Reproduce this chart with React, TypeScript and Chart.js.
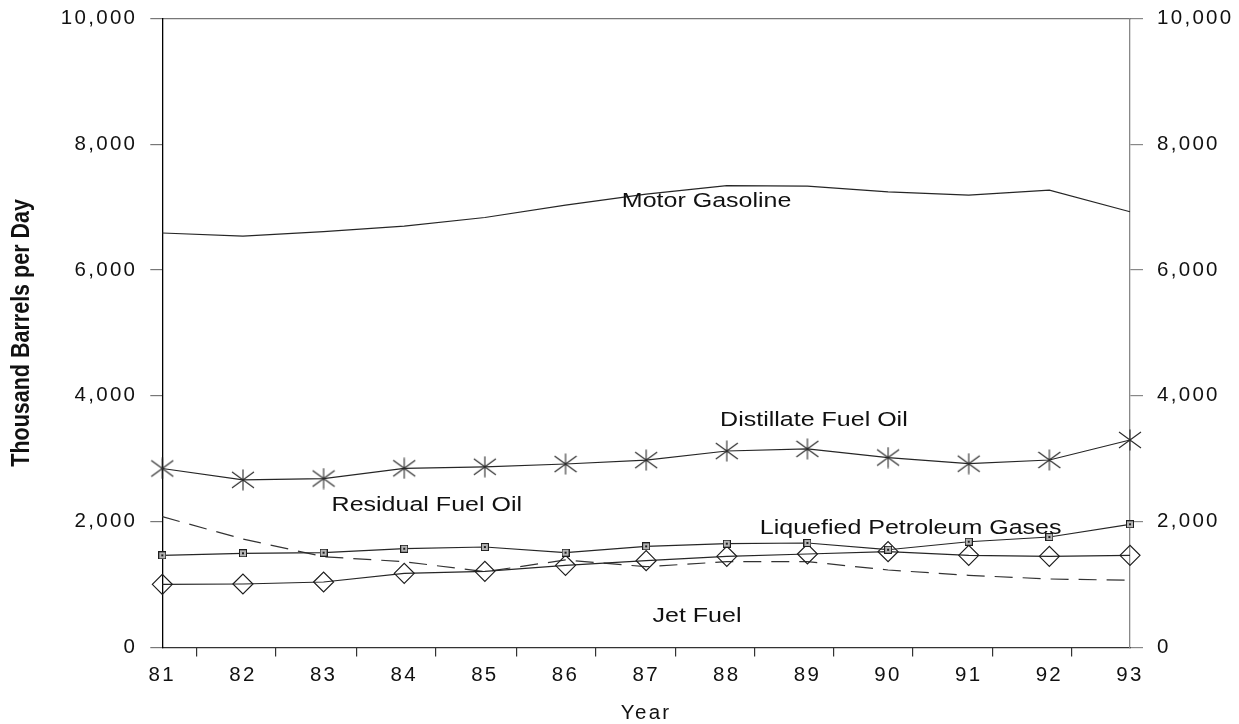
import React, { useEffect, useRef } from 'react';
import { Chart, registerables } from 'chart.js';

Chart.register(...registerables);

const years = ['81', '82', '83', '84', '85', '86', '87', '88', '89', '90', '91', '92', '93'];
const motorGasoline = [6588, 6539, 6610, 6696, 6834, 7030, 7206, 7340, 7332, 7240, 7190, 7270, 6925];
const distillateFuelOil = [2845, 2665, 2685, 2848, 2872, 2916, 2978, 3123, 3156, 3019, 2921, 2980, 3298];
const liquefiedPetroleumGases = [1465, 1497, 1507, 1570, 1597, 1507, 1608, 1650, 1661, 1554, 1681, 1756, 1958];
const jetFuel = [1004, 1009, 1041, 1179, 1211, 1306, 1380, 1449, 1486, 1523, 1465, 1449, 1465];
const residualFuelOil = [2079, 1724, 1443, 1364, 1205, 1391, 1284, 1364, 1364, 1232, 1147, 1089, 1068];

const yMin = 0;
const yMax = 10000;
const yStep = 2000;
// minor tick marks on the year axis (in category-index units)
const xTickMarks = [0.43, 1.41, 2.41, 3.39, 4.39, 5.37, 6.37, 7.35, 8.33, 9.31, 10.3, 11.28];

// series name labels: category index and value of the text baseline centre
const seriesLabelText = ['Motor Gasoline', 'Distillate Fuel Oil', 'Residual Fuel Oil', 'Liquefied Petroleum Gases', 'Jet Fuel'];
const seriesLabelIndex = [6.75, 8.08, 3.28, 9.28, 6.63];
const seriesLabelValue = [7006, 3520, 2174, 1804, 410];

const yTitle = 'Thousand Barrels per Day';
const xTitle = 'Year';

const FONT = "'Liberation Sans', Arial, Helvetica, sans-serif";
const LINE = '#262626';

function makeAsterisk(): HTMLCanvasElement {
  const c = document.createElement('canvas');
  c.width = 24;
  c.height = 22;
  const g = c.getContext('2d')!;
  g.strokeStyle = '#2a2a2a';
  g.lineWidth = 1.1;
  g.beginPath();
  g.moveTo(12, 0.5);
  g.lineTo(12, 21.5);
  g.moveTo(1, 3);
  g.lineTo(23, 19);
  g.moveTo(1, 19);
  g.lineTo(23, 3);
  g.stroke();
  return c;
}

function makeSquare(): HTMLCanvasElement {
  const c = document.createElement('canvas');
  c.width = 8;
  c.height = 8;
  const g = c.getContext('2d')!;
  g.fillStyle = '#b4b4b4';
  g.fillRect(0, 0, 8, 8);
  g.strokeStyle = '#1e1e1e';
  g.lineWidth = 1;
  g.strokeRect(0.5, 0.5, 7, 7);
  g.fillStyle = '#1e1e1e';
  g.fillRect(3, 3, 2, 2);
  return c;
}

const fmt = (v: number) => Number(v).toLocaleString('en-US');

const noPad = (s: any) => {
  s.paddingTop = 0;
  s.paddingBottom = 0;
  s.paddingLeft = 0;
  s.paddingRight = 0;
};

export default function App() {
  const ref = useRef<HTMLCanvasElement | null>(null);

  useEffect(() => {
    if (!ref.current) return;
    const asterisk = makeAsterisk();
    const square = makeSquare();

    const textPlugin = {
      id: 'textPlugin',
      beforeDraw(chart: any) {
        (chart.ctx as any).letterSpacing = '2.3px';
      },
      afterDraw(chart: any) {
        const ctx = chart.ctx;
        const xs = chart.scales.x;
        const ys = chart.scales.y;
        const area = chart.chartArea;
        ctx.save();
        (ctx as any).letterSpacing = '0px';
        ctx.fillStyle = '#111';
        ctx.font = `20.5px ${FONT}`;
        ctx.textAlign = 'center';
        ctx.textBaseline = 'alphabetic';
        for (let i = 0; i < seriesLabelText.length; i++) {
          const px = xs.getPixelForValue(seriesLabelIndex[i]);
          const py = ys.getPixelForValue(seriesLabelValue[i]);
          ctx.save();
          ctx.translate(px, py);
          ctx.scale(1.22, 1);
          ctx.fillText(seriesLabelText[i], 0, 0);
          ctx.restore();
        }
        // rotated y-axis title
        ctx.save();
        ctx.translate(21.7, (area.top + area.bottom) / 2);
        ctx.rotate(-Math.PI / 2);
        ctx.scale(1, 1.2);
        ctx.font = `bold 21.5px ${FONT}`;
        ctx.textBaseline = 'middle';
        ctx.fillText(yTitle, 0, 0);
        ctx.restore();
        ctx.restore();
        (ctx as any).letterSpacing = '0px';
      },
    };

    const chart = new Chart(ref.current, {
      type: 'line',
      data: {
        labels: years,
        datasets: [
          {
            label: 'Motor Gasoline',
            data: motorGasoline,
            borderColor: LINE,
            borderWidth: 1.2,
            pointRadius: 0,
            tension: 0,
          },
          {
            label: 'Distillate Fuel Oil',
            data: distillateFuelOil,
            borderColor: LINE,
            borderWidth: 1.2,
            pointStyle: asterisk as any,
            pointRadius: 11,
            tension: 0,
          },
          {
            label: 'Liquefied Petroleum Gases',
            data: liquefiedPetroleumGases,
            borderColor: LINE,
            borderWidth: 1.2,
            pointStyle: square as any,
            pointRadius: 4,
            tension: 0,
          },
          {
            label: 'Jet Fuel',
            data: jetFuel,
            borderColor: LINE,
            borderWidth: 1.2,
            pointStyle: 'rectRot',
            pointRadius: 10,
            pointBorderColor: '#1e1e1e',
            pointBorderWidth: 1.2,
            pointBackgroundColor: 'rgba(0,0,0,0)',
            tension: 0,
          },
          {
            label: 'Residual Fuel Oil',
            data: residualFuelOil,
            borderColor: '#333',
            borderWidth: 1.2,
            borderDash: [18, 10],
            pointRadius: 0,
            tension: 0,
          },
        ],
      },
      options: {
        animation: false,
        responsive: true,
        maintainAspectRatio: false,
        events: [],
        layout: { padding: { top: 18.3, left: 0, right: 0, bottom: 0 } },
        plugins: {
          legend: { display: false },
          tooltip: { enabled: false },
          title: { display: false },
        },
        scales: {
          x: {
            type: 'category',
            position: 'bottom',
            weight: 1,
            offset: false,
            grid: { display: false, drawTicks: false },
            border: { display: true, color: '#333', width: 1.3 },
            ticks: {
              color: '#111',
              font: { family: FONT, size: 20.5 },
              padding: 16,
              maxRotation: 0,
              autoSkip: false,
            },
            title: {
              display: true,
              text: xTitle,
              color: '#111',
              font: { family: FONT, size: 20.5, lineHeight: 0.9 },
              padding: { top: 0, bottom: 1 },
            },
            afterFit: (s: any) => {
              s.height = 76.5;
              noPad(s);
            },
          },
          xt: {
            type: 'linear',
            position: 'bottom',
            weight: 0,
            min: 0,
            max: years.length - 1,
            afterBuildTicks: (s: any) => {
              s.ticks = xTickMarks.map((v) => ({ value: v }));
            },
            ticks: { display: false },
            grid: { drawOnChartArea: false, drawTicks: true, tickLength: 9, color: '#333', lineWidth: 1.2 },
            border: { display: false },
            afterFit: (s: any) => {
              s.height = 0;
              noPad(s);
            },
          },
          xTop: {
            type: 'category',
            position: 'top',
            ticks: { display: false },
            grid: { display: false, drawTicks: false },
            border: { display: true, color: '#777', width: 1.2 },
            afterFit: (s: any) => {
              s.height = 0;
              noPad(s);
            },
          },
          y: {
            type: 'linear',
            position: 'left',
            min: yMin,
            max: yMax,
            ticks: {
              stepSize: yStep,
              color: '#111',
              font: { family: FONT, size: 20.5 },
              padding: 13,
              callback: (v: any) => fmt(v),
            },
            grid: { drawOnChartArea: false, tickLength: 12, color: '#777', lineWidth: 1.2 },
            border: { display: true, color: '#000', width: 1.3 },
            afterFit: (s: any) => {
              s.width = 162.3;
              noPad(s);
            },
          },
          y2: {
            type: 'linear',
            position: 'right',
            min: yMin,
            max: yMax,
            ticks: {
              stepSize: yStep,
              color: '#111',
              font: { family: FONT, size: 20.5 },
              padding: 14,
              callback: (v: any) => fmt(v),
            },
            grid: { drawOnChartArea: false, tickLength: 13, color: '#888', lineWidth: 1.2 },
            border: { display: true, color: '#888', width: 1.3 },
            afterFit: (s: any) => {
              s.width = 109;
              noPad(s);
            },
          },
        },
      } as any,
      plugins: [textPlugin],
    });

    return () => {
      chart.destroy();
    };
  }, []);

  return (
    <div style={{ position: 'absolute', left: 0, top: 0, width: 1239, height: 724, background: '#fff' }}>
      <canvas ref={ref} />
    </div>
  );
}
